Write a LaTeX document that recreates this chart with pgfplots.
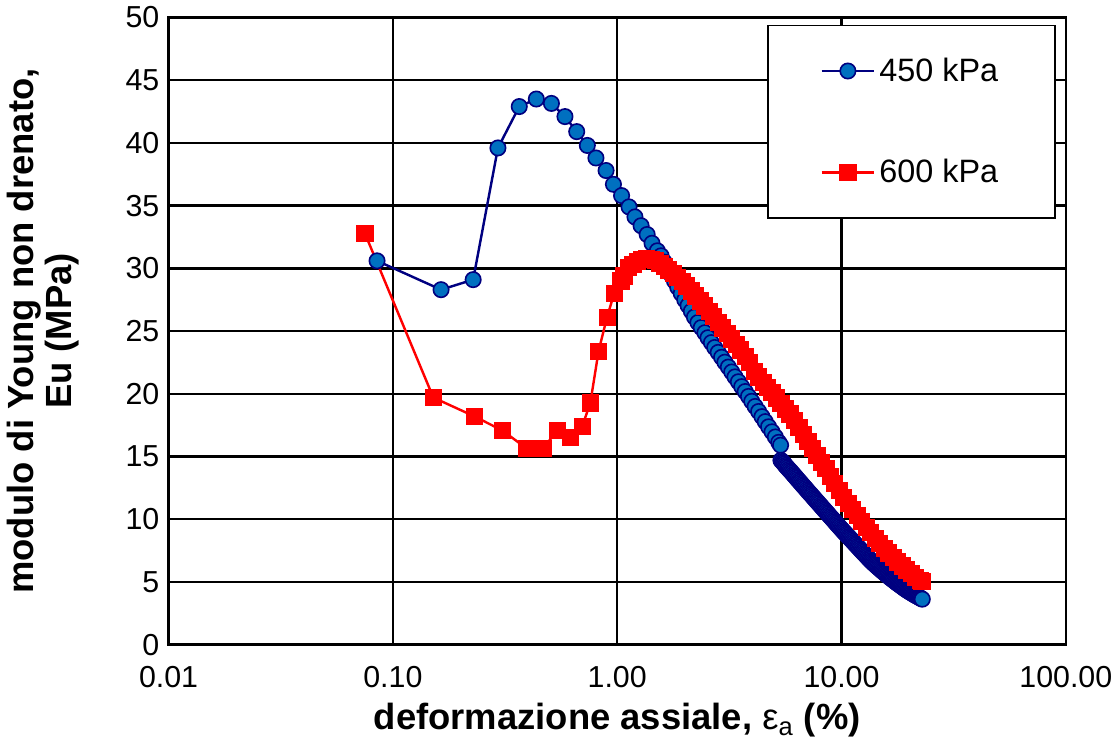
\documentclass[border=0pt]{standalone}
\usepackage{pgfplots}
\pgfplotsset{compat=1.18}
\usepackage{fontspec}
\setmainfont{Liberation Sans}
\definecolor{navyline}{RGB}{0,0,128}
\definecolor{bluefill}{RGB}{0,112,192}
\definecolor{redmark}{RGB}{255,0,0}

\begin{document}
\begin{tikzpicture}
\begin{axis}[
  scale only axis,
  width=443.5pt, height=310pt,
  xmode=log, xmin=0.01, xmax=100,
  ymin=0, ymax=50,
  xtick={0.01,0.1,1,10,100},
  xticklabels={0.01,0.10,1.00,10.00,100.00},
  ytick={0,5,...,50},
  xminorticks=false,
  grid=major,
  major grid style={black, line width=1.2pt},
  axis line style={black, line width=1.2pt},
  major tick length=0pt,
  /pgf/number format/assume math mode=true,
  tick label style={font=\fontsize{15}{18}\selectfont},
  xticklabel style={yshift=-7pt},
  yticklabel style={xshift=-1pt},
  xlabel={deformazione assiale, {\fontseries{m}\selectfont ε\textsubscript{a}} (\%)},
  xlabel style={font=\bfseries\fontsize{18}{21}\selectfont, at={(axis description cs:0.5,-0.121)}, anchor=center},
  ylabel={modulo di Young non drenato,\\Eu (MPa)},
  ylabel style={font=\bfseries\fontsize{18}{19}\selectfont, align=center, at={(axis description cs:-0.14,0.5)}, anchor=center},
  legend style={at={(0.9887,0.9887)}, anchor=north east, draw=black, line width=0.8pt, fill=white,
    font=\fontsize{16}{19}\selectfont, inner xsep=26pt, inner ysep=14pt, row sep=33pt},
  legend cell align=left,
  legend image code/.code={\draw[mark repeat=2,mark phase=2,#1] plot coordinates {(0pt,0pt) (13pt,0pt) (26pt,0pt)};},
]
% 450 kPa
\addplot[navyline, line width=1.2pt, mark=*, mark size=3.8pt,
  mark options={fill=bluefill, draw=navyline, line width=0.8pt}] coordinates {
(0.085,30.6) (0.164,28.3) (0.228,29.1) (0.294,39.6) (0.366,42.9) (0.436,43.5)
(0.509,43.15) (0.585,42.1) (0.660,40.9) (0.736,39.8) (0.804,38.8) (0.892,37.8)
(0.962,36.7) (1.046,35.8) (1.129,34.9) (1.20,34.1) (1.278,33.4) (1.36,32.7)
(1.43,32.0) (1.51,31.4)
(1.57,31.0) (1.62,30.5) (1.68,30.0) (1.74,29.5) (1.80,29.0) (1.86,28.5)
(1.93,28.0) (2.00,27.5) (2.07,27.04) (2.14,26.58) (2.21,26.12) (2.29,25.68)
(2.37,25.28) (2.46,24.87) (2.54,24.47) (2.63,24.08) (2.72,23.69) (2.82,23.3)
(2.92,22.91) (3.02,22.52) (3.13,22.13) (3.24,21.74) (3.35,21.35) (3.47,20.96)
(3.59,20.57) (3.72,20.18) (3.85,19.79) (3.98,19.4) (4.12,18.99) (4.27,18.59)
(4.42,18.18) (4.57,17.78) (4.73,17.37) (4.90,16.97) (5.07,16.56) (5.25,16.13)
(5.35,15.9) (5.37,14.7)
(5.44,14.60) (5.50,14.50) (5.56,14.40) (5.62,14.29) (5.68,14.19) (5.75,14.09)
(5.82,13.98) (5.89,13.88) (5.96,13.78) (6.03,13.68) (6.10,13.57) (6.17,13.47)
(6.24,13.37) (6.31,13.27) (6.38,13.16) (6.46,13.06) (6.53,12.96) (6.61,12.86)
(6.68,12.75) (6.76,12.65) (6.84,12.55) (6.92,12.45) (7.00,12.34) (7.08,12.24)
(7.16,12.14) (7.24,12.04) (7.33,11.94) (7.41,11.84) (7.50,11.73) (7.59,11.63)
(7.67,11.53) (7.76,11.43) (7.85,11.33) (7.94,11.23) (8.04,11.12) (8.13,11.02)
(8.22,10.92) (8.32,10.82) (8.41,10.72) (8.51,10.62) (8.61,10.52) (8.71,10.42)
(8.81,10.31) (8.91,10.21) (9.02,10.11) (9.12,10.01) (9.23,9.91) (9.33,9.81)
(9.44,9.70) (9.55,9.60) (9.66,9.50) (9.77,9.40) (9.89,9.30) (10.00,9.20)
(10.12,9.10) (10.23,9.00) (10.35,8.91) (10.47,8.81) (10.59,8.72) (10.72,8.62)
(10.84,8.53) (10.96,8.43) (11.09,8.34) (11.22,8.24) (11.35,8.14) (11.48,8.04)
(11.61,7.95) (11.75,7.85) (11.88,7.76) (12.02,7.66) (12.16,7.56) (12.30,7.46)
(12.45,7.37) (12.59,7.27) (12.74,7.18) (12.88,7.08) (13.03,6.99) (13.18,6.89)
(13.34,6.80) (13.49,6.70) (13.65,6.62) (13.80,6.53) (13.96,6.45) (14.13,6.37)
(14.29,6.29) (14.45,6.21) (14.62,6.13) (14.79,6.05) (14.97,5.97) (15.14,5.89)
(15.31,5.82) (15.49,5.74) (15.67,5.67) (15.85,5.59) (16.03,5.52) (16.22,5.44)
(16.41,5.37) (16.60,5.30) (16.79,5.23) (16.98,5.16) (17.18,5.09) (17.38,5.02)
(17.58,4.95) (17.78,4.88) (17.99,4.82) (18.20,4.75) (18.41,4.69) (18.62,4.62)
(18.84,4.56) (19.05,4.49) (19.27,4.43) (19.50,4.37) (19.72,4.31) (19.95,4.25)
(20.18,4.20) (20.42,4.14) (20.65,4.09) (20.89,4.03) (21.13,3.98) (21.38,3.93)
(21.63,3.88) (21.88,3.83) (22.13,3.78) (22.39,3.73) (22.65,3.68) (22.91,3.63)
};
\addlegendentry{450 kPa}
% 600 kPa
\addplot[redmark, line width=1.2pt, mark=square*, mark size=4pt,
  mark options={fill=redmark, draw=redmark, line width=0.4pt}] coordinates {
(0.075,32.8) (0.1515,19.7) (0.231,18.2) (0.308,17.07) (0.393,15.67) (0.467,15.67)
(0.542,17.07) (0.621,16.5) (0.698,17.4) (0.759,19.27) (0.826,23.4) (0.901,26.1)
(0.969,28.0) (1.039,29.0)
(1.072,29.4) (1.122,30.1) (1.175,30.34) (1.230,30.58) (1.288,30.73) (1.349,30.8)
(1.413,30.73) (1.479,30.62) (1.549,30.4) (1.622,30.16) (1.698,29.88) (1.778,29.6)
(1.862,29.28) (1.950,28.96) (2.042,28.6) (2.138,28.2) (2.239,27.8) (2.344,27.4)
(2.455,27.0) (2.570,26.58) (2.692,26.14) (2.818,25.7) (2.951,25.26) (3.090,24.82)
(3.236,24.38) (3.388,23.94) (3.548,23.5) (3.715,23.0) (3.890,22.5) (4.074,21.78)
(4.266,21.34) (4.467,20.9) (4.677,20.5) (4.898,20.1) (5.129,19.68) (5.370,19.24)
(5.623,18.8) (5.888,18.4) (6.166,17.88) (6.457,17.32) (6.761,16.76) (7.079,16.2)
(7.413,15.64) (7.762,15.08) (8.128,14.56) (8.511,14.04) (8.913,13.4) (9.333,12.84)
(9.772,12.28) (10.23,11.76) (10.72,11.28) (11.22,10.8) (11.75,10.32) (12.30,9.84)
(12.88,9.38) (13.49,8.94) (14.13,8.5) (14.79,8.1) (15.49,7.7) (16.22,7.32)
(16.98,6.96) (17.78,6.6) (18.62,6.28) (19.50,5.96) (20.42,5.66) (21.38,5.38)
(22.39,5.1) (22.8,5.05)
};
\addlegendentry{600 kPa}
\end{axis}
\end{tikzpicture}
\end{document}
